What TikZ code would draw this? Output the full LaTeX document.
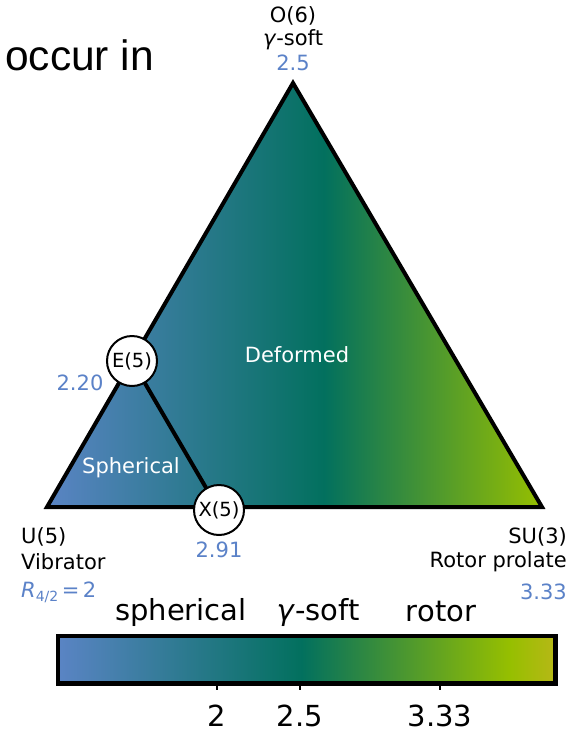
\documentclass[tikz,border=0pt]{standalone}
\usepackage{fontspec}
\setmainfont{DejaVu Sans}
\newfontfamily\titlefont{Liberation Sans}
\definecolor{labelblue}{HTML}{5B82C8}
\definecolor{cmA}{HTML}{5A84C4}
\definecolor{cmB}{HTML}{02705E}
\definecolor{cmC}{HTML}{96BF00}
\definecolor{cmD}{HTML}{B6B816}
% horizontal colour maps; the path box covers 25bp..75bp
\pgfdeclarehorizontalshading{triangleshade}{100bp}{
  color(0bp)=(cmA); color(25bp)=(cmA); color(53bp)=(cmB); color(75bp)=(cmC); color(100bp)=(cmC)}
\pgfdeclarehorizontalshading{barshade}{100bp}{
  color(0bp)=(cmA); color(25bp)=(cmA); color(49.5bp)=(cmB); color(70.5bp)=(cmC); color(75bp)=(cmD); color(100bp)=(cmD)}
\newcommand{\fs}[1]{\fontsize{#1}{#1}\selectfont}
\tikzset{
  edge/.style={line width=4pt, line join=miter, line cap=round},
  point/.style={circle, draw, line width=2pt, fill=white, minimum size=50pt, inner sep=0pt, font=\fs{19.5}},
  small/.style={font=\fs{21}, inner sep=0pt},
  val/.style={small, text=labelblue},
  big/.style={font=\fs{29}, inner sep=0pt},
}
\begin{document}
\begin{tikzpicture}[x=1pt, y=-1pt]
\useasboundingbox (0,0) rectangle (580,732);
\fill[white] (0,0) rectangle (580,732);

% corners of the triangle
\coordinate (O6) at (293,83);
\coordinate (U5) at (47,507);
\coordinate (SU3) at (542,507);

\shade[shading=triangleshade] (U5) -- (O6) -- (SU3) -- cycle;
\draw[edge] (U5) -- (O6) -- (SU3) -- cycle;

% critical points
\node[point] (E5) at (132,361) {E(5)};
\node[point] (X5) at (219,510) {X(5)};
\draw[edge] (E5) -- (X5);

% region labels
\node[small, text=white] (def) at (297,355) {Deformed};
\node[small, text=white] (sph) at (131,468) {Spherical};

% title
\node[font=\titlefont\fs{42.5}, anchor=west, inner sep=0pt] (title) at (5,55) {occur in};

% corner labels
\node[small] (o6a) at (293,16) {O(6)};
\node[small] (o6b) at (293,40) {\textit{γ}-soft};
\node[val] (o6c) at (293,63) {2.5};

\node[small, anchor=west] (u5a) at (21,537) {U(5)};
\node[small, anchor=west] (u5b) at (21,562) {Vibrator};
\node[val, anchor=west] (u5c) at (21,592) {\textit{R}\raisebox{-0.35ex}{\fs{14}4/2}\,=\,2};

\node[small, anchor=east] (su3a) at (567,537) {SU(3)};
\node[small, anchor=east] (su3b) at (567,562) {Rotor prolate};
\node[val, anchor=east] (su3c) at (567,592) {3.33};

\node[val] (e5v) at (80,383) {2.20};
\node[val] (x5v) at (219,550) {2.91};

% colour bar
\node[big] (cb1) at (181,612) {spherical};
\node[big] (cb2) at (318,612) {\textit{γ}-soft};
\node[big] (cb3) at (441,612) {rotor};

\node[draw, line width=3pt, minimum width=496pt, minimum height=46pt, inner sep=0pt,
      shading=barshade, anchor=north west] (bar) at (57,635) {};
\draw[line width=3pt] (bar.north west) rectangle (bar.south east);

\foreach \x/\t in {217/2, 300/2.5, 440/3.33}{
  \draw[line width=2.5pt] (\x,681) -- (\x,690);
  \node[big] at (\x,716) {\t};
}
\end{tikzpicture}
\end{document}
